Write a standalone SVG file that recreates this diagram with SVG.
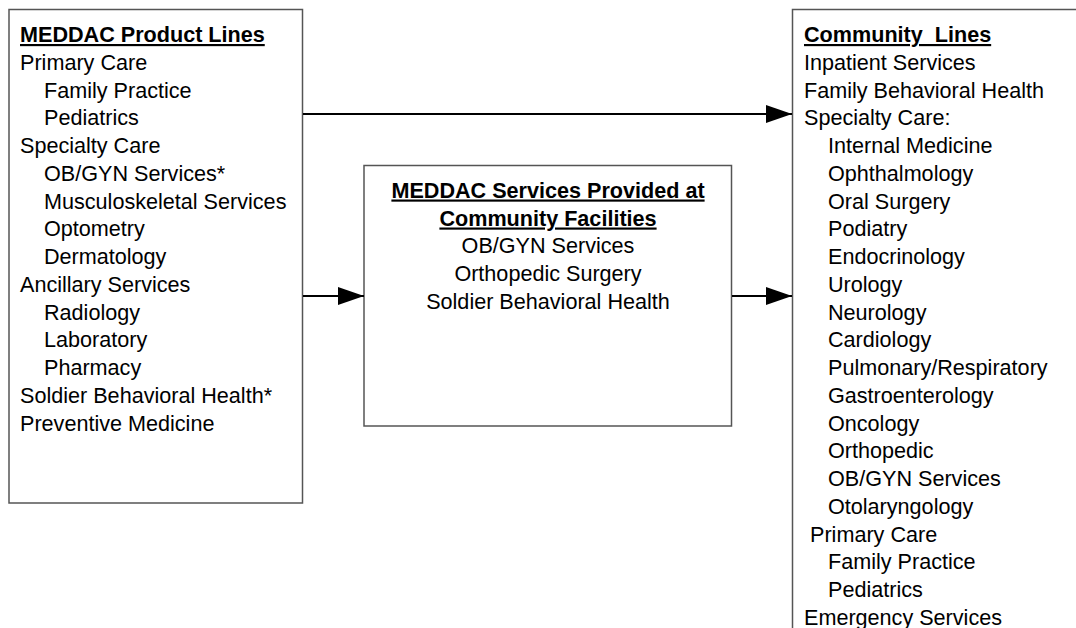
<svg xmlns="http://www.w3.org/2000/svg" width="1076" height="628" viewBox="0 0 1076 628">
<style>
.box{fill:#fff;stroke:#555;stroke-width:1.5}
text{font-family:"Liberation Sans",Arial,sans-serif;font-size:21.6px;fill:#000}
.t{font-weight:bold;text-decoration:underline;white-space:pre}
.c{text-anchor:middle}
.conn{stroke:#000;stroke-width:2;fill:none}
</style>
<defs>
<marker id="ah" viewBox="0 0 26 18" refX="26" refY="9" markerWidth="26" markerHeight="18" markerUnits="userSpaceOnUse" orient="auto">
<path d="M0,0 L26,9 L0,18 Z" fill="#000"/>
</marker>
</defs>
<rect width="1076" height="628" fill="#fff"/>
<g id="product-lines">
<rect class="box" x="9" y="9.5" width="293.5" height="493.5"/>
<text class="t" x="20" y="42">MEDDAC Product Lines</text>
<text x="20" y="69.75">Primary Care</text>
<text x="44" y="97.5">Family Practice</text>
<text x="44" y="125.25">Pediatrics</text>
<text x="20" y="153">Specialty Care</text>
<text x="44" y="180.75">OB/GYN Services*</text>
<text x="44" y="208.5">Musculoskeletal Services</text>
<text x="44" y="236.25">Optometry</text>
<text x="44" y="264">Dermatology</text>
<text x="20" y="291.75">Ancillary Services</text>
<text x="44" y="319.5">Radiology</text>
<text x="44" y="347.25">Laboratory</text>
<text x="44" y="375">Pharmacy</text>
<text x="20" y="402.75">Soldier Behavioral Health*</text>
<text x="20" y="430.5">Preventive Medicine</text>
</g>
<g id="community-facilities">
<rect class="box" x="364" y="165.5" width="367.5" height="260.5"/>
<text class="t c" x="548" y="197.5">MEDDAC Services Provided at</text>
<text class="t c" x="548" y="225.5">Community Facilities</text>
<text class="c" x="548" y="253">OB/GYN Services</text>
<text class="c" x="548" y="280.75">Orthopedic Surgery</text>
<text class="c" x="548" y="308.5">Soldier Behavioral Health</text>
</g>
<g id="community-lines">
<rect class="box" x="792.5" y="9.5" width="320" height="700"/>
<text class="t" x="804" y="42">Community  Lines</text>
<text x="804" y="69.75">Inpatient Services</text>
<text x="804" y="97.5">Family Behavioral Health</text>
<text x="804" y="125.25">Specialty Care:</text>
<text x="828" y="153">Internal Medicine</text>
<text x="828" y="180.75">Ophthalmology</text>
<text x="828" y="208.5">Oral Surgery</text>
<text x="828" y="236.25">Podiatry</text>
<text x="828" y="264">Endocrinology</text>
<text x="828" y="291.75">Urology</text>
<text x="828" y="319.5">Neurology</text>
<text x="828" y="347.25">Cardiology</text>
<text x="828" y="375">Pulmonary/Respiratory</text>
<text x="828" y="402.75">Gastroenterology</text>
<text x="828" y="430.5">Oncology</text>
<text x="828" y="458.25">Orthopedic</text>
<text x="828" y="486">OB/GYN Services</text>
<text x="828" y="513.75">Otolaryngology</text>
<text x="810" y="541.5">Primary Care</text>
<text x="828" y="569.25">Family Practice</text>
<text x="828" y="597">Pediatrics</text>
<text x="804" y="624.75">Emergency Services</text>
</g>
<g id="connectors">
<line class="conn" x1="303" y1="114" x2="792" y2="114" marker-end="url(#ah)"/>
<line class="conn" x1="303" y1="296" x2="364" y2="296" marker-end="url(#ah)"/>
<line class="conn" x1="732" y1="296" x2="792" y2="296" marker-end="url(#ah)"/>
</g>
</svg>
